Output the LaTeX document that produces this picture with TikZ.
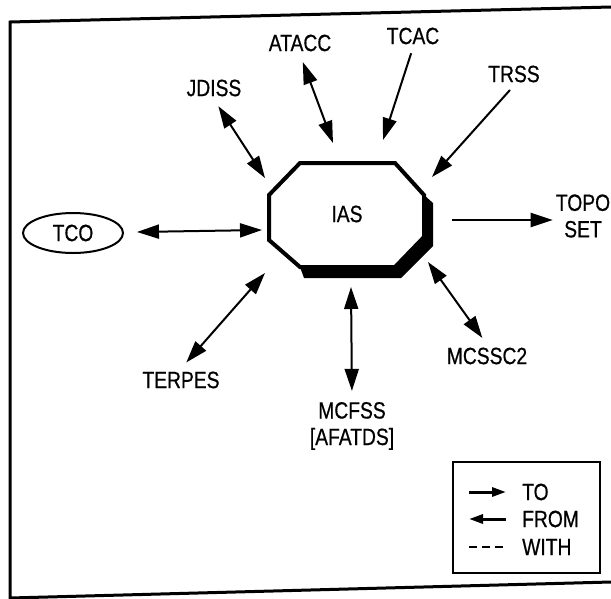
\documentclass[tikz,border=0pt]{standalone}
\usepackage{fontspec}
\setmainfont[FakeStretch=0.82, FakeBold=0.6]{Liberation Sans}
\usetikzlibrary{shapes, arrows.meta}

\begin{document}
\begin{tikzpicture}[x=1pt,y=-1pt,
	sysname/.style={font=\fontsize{23.5}{26.5}\selectfont, inner sep=3pt, align=center},
	bothway/.style={line width=2pt, shorten <=8pt,
		{Triangle[length=22pt,width=14pt]}-{Triangle[length=22pt,width=14pt]}},
	oneway/.style={line width=2pt, shorten <=6pt, -{Triangle[length=22pt,width=14pt]}},
	legline/.style={line width=3pt}]
	\useasboundingbox (0,0) rectangle (611,598);
	\clip (0,0) rectangle (611,598);
	% outer frame (right side off the page)
	\draw[line width=3pt] (611,7) -- (10,22) -- (10,598) -- (611,582);

	% IAS box with its shadow
	\fill (424,195) -- (433,203) -- (433,246) -- (401,278) -- (304,278) -- (300,267)
		-- (395,267) -- (424,237) -- cycle;
	\draw[line width=4pt] (300,163) -- (395,163) -- (424,195) -- (424,237) -- (395,267)
		-- (300,267) -- (269,240) -- (269,195) -- cycle;
	\node[sysname] (ias) at (347,214) {IAS};
	\coordinate (ias-w) at (262,230);
	\coordinate (ias-nw) at (265,178);
	\coordinate (ias-n) at (333,143);
	\coordinate (ias-nne) at (383,140);
	\coordinate (ias-ne) at (432,177);
	\coordinate (ias-e) at (452,220);
	\coordinate (ias-se) at (428,262);
	\coordinate (ias-s) at (351,287);
	\coordinate (ias-sw) at (265,273);

	% the other systems
	\node[sysname, draw, ellipse, line width=2pt, minimum width=100pt, minimum height=40pt] (tco) at (73,233) {TCO};
	\node[sysname] (jdiss) at (214,88) {JDISS};
	\node[sysname] (atacc) at (300,43) {ATACC};
	\node[sysname] (tcac) at (413,36) {TCAC};
	\node[sysname] (trss) at (514,74) {TRSS};
	\node[sysname] (topo) at (583,216) {TOPO\\SET};
	\node[sysname] (mcssc2) at (487,356) {MCSSC2};
	\node[sysname] (mcfss) at (352,426) {MCFSS\\{[AFATDS]}};
	\node[sysname] (terpes) at (181,380) {TERPES};

	% links
	\draw[bothway, shorten <=13pt] (tco) -- (ias-w);
	\draw[bothway] (jdiss.south) -- (ias-nw);
	\draw[bothway] (atacc.south) -- (ias-n);
	\draw[oneway] (tcac.south) -- (ias-nne);
	\draw[oneway] (trss.south) -- (ias-ne);
	\draw[oneway, shorten <=0pt] (ias-e) -- (ias-e -| topo.west);
	\draw[bothway] (mcssc2.north) -- (ias-se);
	\draw[bothway] (mcfss.north) -- (ias-s);
	\draw[bothway] (terpes.north) -- (ias-sw);

	% legend
	\draw[line width=2.5pt] (453,462) rectangle (600,573);
	\node[sysname, anchor=west] (key-to) at (519,492) {TO};
	\node[sysname, anchor=west] (key-from) at (519,519) {FROM};
	\node[sysname, anchor=west] (key-with) at (519,547) {WITH};
	\draw[legline, -{Triangle[length=14pt,width=9pt]}] (469,492) -- (506,492);
	\draw[legline, {Triangle[length=14pt,width=9pt]}-] (469,519) -- (506,519);
	\draw[line width=2pt, dash pattern=on 8pt off 5pt] (469,547) -- (506,547);
\end{tikzpicture}
\end{document}
